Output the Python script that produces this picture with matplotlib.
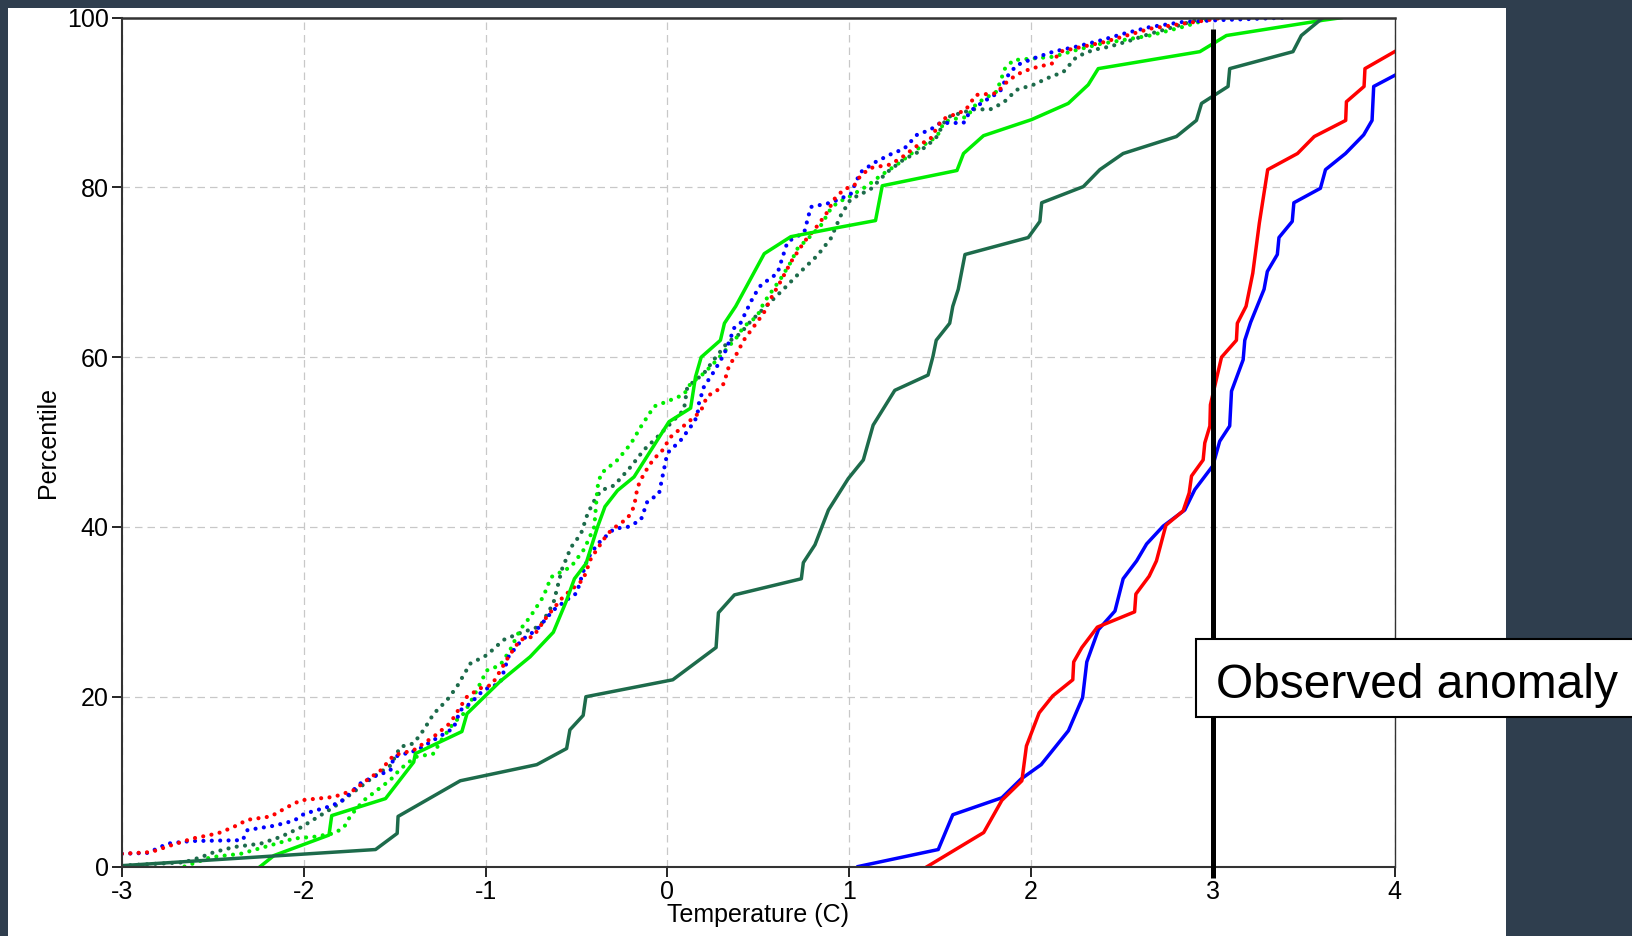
import matplotlib
matplotlib.use('Agg')
import matplotlib.pyplot as plt
from matplotlib.patches import Rectangle

plt.rcParams['font.family'] = ['Liberation Sans', 'DejaVu Sans']
plt.rcParams['axes.unicode_minus'] = False

# ── Data: empirical percentile curves (temperature anomaly, percentile) ──
# solid red
red_x = [1.43, 1.74, 1.84, 1.95, 1.975, 2.045, 2.12, 2.23, 2.235, 2.28, 2.365,
         2.57, 2.577, 2.65, 2.69, 2.742, 2.837, 2.87, 2.883, 2.947, 2.956, 2.984,
         2.987, 3.048, 3.13, 3.135, 3.183, 3.22, 3.256, 3.302, 3.466, 3.558,
         3.731, 3.735, 3.832, 3.837, 4.0]
red_y = [0, 4.0, 7.8, 10.1, 14.2, 18.1, 20.1, 22.0, 24.1, 25.8, 28.2,
         30.0, 32.1, 34.2, 36.0, 40.2, 41.9, 44.0, 46.0, 47.9, 49.9, 51.9,
         54.4, 60.0, 62.0, 64.0, 66.0, 69.9, 75.8, 82.1, 84.0, 86.0,
         87.9, 90.1, 91.9, 94.0, 96.0]

# solid blue
blue_x = [1.05, 1.49, 1.57, 1.84, 1.945, 2.056, 2.206, 2.284, 2.307, 2.371,
          2.462, 2.507, 2.581, 2.636, 2.727, 2.846, 2.901, 3.0, 3.038, 3.093,
          3.103, 3.167, 3.176, 3.208, 3.282, 3.3, 3.355, 3.364, 3.437, 3.446,
          3.592, 3.62, 3.73, 3.83, 3.876, 3.885, 4.0]
blue_y = [0, 2.0, 6.1, 8.1, 10.3, 12.0, 16.0, 19.9, 24.1, 27.9,
          30.1, 33.9, 36.0, 38.0, 40.1, 42.0, 44.4, 47.2, 50.1, 51.9,
          56.0, 59.7, 62.0, 64.1, 68.0, 70.1, 72.1, 74.1, 76.0, 78.2,
          79.9, 82.1, 84.0, 86.2, 87.9, 91.9, 93.2]

# solid dark green
dkgreen_x = [-3.0, -1.605, -1.486, -1.481, -1.139, -0.718, -0.554, -0.536,
             -0.463, -0.448, 0.03, 0.268, 0.281, 0.369, 0.737, 0.748, 0.812,
             0.886, 0.995, 1.078, 1.132, 1.251, 1.434, 1.461, 1.479, 1.553,
             1.57, 1.6, 1.637, 1.985, 2.049, 2.059, 2.288, 2.379, 2.507, 2.8,
             2.91, 2.938, 3.084, 3.093, 3.441, 3.487, 3.606]
dkgreen_y = [0.1, 2.0, 3.9, 5.9, 10.1, 12.0, 13.9, 16.1,
             17.8, 20.0, 22.0, 25.8, 29.9, 32.0, 33.9, 35.8, 37.9,
             42.0, 45.7, 47.9, 52.0, 56.1, 57.9, 60.1, 62.0, 64.0,
             66.0, 68.0, 72.1, 74.1, 76.0, 78.2, 80.1, 82.1, 84.0, 86.0,
             87.9, 89.9, 91.9, 94.0, 96.0, 97.9, 100.0]

# solid bright green
ltgreen_x = [-2.239, -2.163, -1.861, -1.846, -1.55, -1.395, -1.386, -1.13,
             -1.102, -0.92, -0.755, -0.627, -0.557, -0.511, -0.447, -0.384,
             -0.343, -0.274, -0.183, 0.009, 0.128, 0.155, 0.186, 0.292, 0.314,
             0.376, 0.533, 0.679, 0.944, 1.145, 1.182, 1.593, 1.629, 1.739,
             2.004, 2.205, 2.315, 2.37, 2.929, 3.075, 3.606, 3.707]
ltgreen_y = [0, 1.3, 3.7, 6.0, 8.0, 12.3, 13.3, 15.9,
             18.0, 21.8, 24.7, 27.6, 31.2, 33.9, 35.7, 40.0,
             42.4, 44.3, 45.9, 52.4, 54.0, 57.7, 60.0, 62.0, 64.0,
             66.0, 72.2, 74.2, 75.3, 76.1, 80.2, 82.0, 84.0, 86.1,
             88.0, 89.9, 92.1, 94.0, 96.0, 97.9, 99.7, 100.0]

# dotted red
red_dot_x = [-3.0, -2.839, -2.729, -2.611, -2.473, -2.391, -2.309, -2.181,
             -2.09, -2.016, -1.834, -1.724, -1.651, -1.578, -1.505, -1.395,
             -1.285, -1.194, -1.139, -1.102, -1.029, -0.965, -0.874, -0.81,
             -0.737, -0.664, -0.572, -0.463, -0.42, -0.329, -0.274, -0.219,
             -0.183, -0.164, -0.128, -0.073, -0.037, 0.018, 0.073, 0.128,
             0.183, 0.219, 0.274, 0.311, 0.338, 0.384, 0.42, 0.475, 0.53,
             0.566, 0.625, 0.679, 0.753, 0.826, 0.88, 0.917, 0.972, 1.027,
             1.063, 1.118, 1.227, 1.3, 1.373, 1.446, 1.51, 1.556, 1.64,
             1.697, 1.811, 1.855, 1.921, 2.0, 2.115, 2.159, 2.288, 2.397,
             2.526, 2.654, 2.837, 3.0, 3.05]
red_dot_y = [1.5, 1.7, 2.5, 3.3, 3.9, 4.6, 5.5, 5.9,
             7.0, 7.8, 8.2, 9.0, 10.2, 11.3, 13.1, 13.7,
             15.3, 16.9, 18.8, 20.0, 21.0, 21.4, 24.7, 26.7,
             27.1, 29.4, 31.8, 33.8, 36.3, 39.2, 40.2, 41.0,
             42.4, 44.7, 46.3, 48.1, 48.7, 50.6, 51.6, 52.6,
             53.6, 55.4, 56.1, 56.9, 58.9, 60.5, 62.0, 63.6, 65.2,
             66.8, 69.0, 71.2, 73.6, 75.5, 77.1, 78.6, 79.8, 80.2,
             81.4, 82.3, 82.7, 83.7, 84.9, 85.7, 88.0, 88.4, 89.1,
             90.9, 91.1, 92.2, 93.3, 94.0, 94.6, 96.0, 96.6, 97.1,
             97.9, 98.7, 99.3, 99.8, 100.0]

# dotted blue
blue_dot_x = [-3.0, -2.857, -2.748, -2.62, -2.336, -2.309, -2.163, -2.053,
              -1.998, -1.87, -1.797, -1.687, -1.614, -1.523, -1.505, -1.377,
              -1.285, -1.176, -1.139, -1.084, -1.011, -0.92, -0.874, -0.801,
              -0.718, -0.627, -0.554, -0.499, -0.466, -0.438, -0.384, -0.292,
              -0.219, -0.146, -0.11, -0.046, -0.027, 0.0, 0.073, 0.128, 0.164,
              0.174, 0.201, 0.256, 0.311, 0.347, 0.365, 0.402, 0.438, 0.475,
              0.515, 0.606, 0.625, 0.661, 0.753, 0.789, 0.899, 1.008, 1.045,
              1.063, 1.136, 1.191, 1.246, 1.3, 1.373, 1.446, 1.501, 1.629,
              1.666, 1.738, 1.83, 1.866, 1.921, 2.013, 2.123, 2.251, 2.379,
              2.507, 2.654, 2.837, 3.02, 3.405]
blue_dot_y = [1.5, 1.6, 2.7, 3.0, 3.1, 4.3, 4.8, 5.4,
              6.2, 7.0, 7.6, 9.8, 10.6, 11.3, 12.9, 13.7,
              14.9, 16.3, 18.4, 19.2, 20.8, 21.6, 24.7, 26.7,
              27.9, 30.2, 31.4, 32.2, 34.5, 36.3, 38.0, 39.8,
              40.0, 40.8, 43.0, 43.9, 45.9, 48.7, 50.2, 51.8, 53.0,
              54.6, 56.5, 58.3, 60.3, 62.2, 63.4, 64.0, 65.6, 67.2,
              68.5, 69.9, 71.2, 73.6, 74.7, 77.7, 78.2, 79.2, 81.0,
              81.8, 82.9, 83.5, 84.1, 84.5, 86.2, 86.8, 87.6, 87.6,
              89.0, 90.1, 91.3, 93.0, 94.4, 95.2, 96.0, 96.6, 97.3,
              98.1, 98.9, 99.5, 99.7, 100.0]

# dotted bright green
ltgreen_dot_x = [-2.656, -2.51, -2.346, -2.199, -2.053, -1.943, -1.834, -1.779,
                 -1.742, -1.669, -1.596, -1.523, -1.468, -1.386, -1.285, -1.249,
                 -1.176, -1.121, -1.066, -0.993, -0.92, -0.865, -0.81, -0.755,
                 -0.682, -0.639, -0.53, -0.457, -0.402, -0.384, -0.365, -0.274,
                 -0.201, -0.146, -0.073, 0.0, 0.091, 0.128, 0.201, 0.274, 0.384,
                 0.42, 0.493, 0.533, 0.625, 0.679, 0.716, 0.789, 0.844, 0.899,
                 0.935, 1.008, 1.1, 1.173, 1.264, 1.373, 1.483, 1.52, 1.556,
                 1.647, 1.701, 1.811, 1.857, 1.903, 2.123, 2.251, 2.379, 2.489,
                 2.654, 2.85, 3.0]
ltgreen_dot_y = [0, 1.1, 1.5, 2.4, 3.3, 3.5, 3.9, 4.6,
                 6.0, 7.8, 9.0, 10.2, 11.5, 12.9, 13.3, 14.7,
                 16.9, 18.0, 20.0, 23.1, 23.7, 25.5, 27.9, 29.4,
                 31.8, 34.1, 35.3, 37.4, 40.0, 44.7, 46.3, 47.9,
                 49.8, 51.8, 54.2, 54.8, 55.6, 56.9, 58.1, 59.7, 62.4,
                 63.6, 64.8, 66.5, 69.3, 71.2, 72.8, 74.3, 75.5, 77.5,
                 78.2, 79.0, 80.2, 81.4, 82.7, 84.5, 86.0, 87.6, 88.0,
                 88.3, 89.9, 91.3, 94.0, 95.0, 95.4, 96.2, 96.9, 97.3,
                 97.9, 99.0, 100.0]

# dotted dark green
dkgreen_dot_x = [-3.0, -2.656, -2.565, -2.492, -2.382, -2.236, -2.126, -2.016,
                 -1.925, -1.834, -1.761, -1.687, -1.614, -1.523, -1.468, -1.395,
                 -1.34, -1.285, -1.212, -1.157, -1.084, -0.993, -0.901, -0.81,
                 -0.7, -0.627, -0.58, -0.53, -0.475, -0.438, -0.402, -0.365,
                 -0.292, -0.201, -0.128, -0.055, 0.018, 0.091, 0.11, 0.201,
                 0.256, 0.329, 0.402, 0.457, 0.533, 0.643, 0.734, 0.826, 0.899,
                 0.954, 1.008, 1.118, 1.209, 1.3, 1.373, 1.428, 1.483, 1.52,
                 1.556, 1.684, 1.776, 1.849, 1.921, 2.013, 2.104, 2.178, 2.251,
                 2.342, 2.434, 2.544, 2.654, 2.8, 2.95]
dkgreen_dot_y = [0.1, 0.5, 1.1, 1.7, 2.3, 2.7, 3.5, 4.6,
                 5.8, 7.0, 8.2, 9.4, 10.6, 11.9, 14.1, 14.5,
                 16.1, 18.0, 19.6, 21.2, 23.9, 24.9, 26.7, 27.5,
                 28.3, 31.0, 35.0, 37.6, 39.2, 41.6, 43.1, 44.3,
                 44.9, 47.1, 49.1, 50.6, 52.2, 53.8, 56.5, 58.1,
                 59.7, 61.7, 62.8, 64.2, 65.8, 68.1, 70.1, 72.0, 74.0,
                 76.7, 78.6, 79.8, 81.8, 83.3, 84.1, 84.9, 86.0, 87.6,
                 88.4, 89.2, 89.2, 90.0, 91.5, 92.1, 93.0, 93.6, 95.4,
                 96.2, 96.6, 97.3, 98.1, 99.0, 100.0]

observed = 3.0
x_ticks = [-3, -2, -1, 0, 1, 2, 3, 4]
y_ticks = [0, 20, 40, 60, 80, 100]

# ── Figure ──────────────────────────────────────────────────────────
W, H = 1633, 936
BG = '#2f3e4e'
RED, BLUE = '#ff0000', '#0000ff'
LTGREEN, DKGREEN = '#00ee00', '#1d6b4b'

fig = plt.figure(figsize=(W / 100, H / 100), dpi=100, facecolor=BG)
# white plotting panel behind the axes
fig.patches.append(Rectangle((8 / W, 0), 1498 / W, 928 / H,
                             transform=fig.transFigure, facecolor='white',
                             edgecolor='none', zorder=-5))

ax = fig.add_axes([121.9 / W, 69.5 / H, 1272.7 / W, 848.8 / H])
ax.set_zorder(1)

dot = dict(linestyle=(0, (0.01, 2.0)), dash_capstyle='round', lw=3.0)
ax.plot(dkgreen_dot_x, dkgreen_dot_y, color=DKGREEN, **dot)
ax.plot(ltgreen_dot_x, ltgreen_dot_y, color=LTGREEN, **dot)
ax.plot(blue_dot_x, blue_dot_y, color=BLUE, **dot)
ax.plot(red_dot_x, red_dot_y, color=RED, **dot)

ax.plot(ltgreen_x, ltgreen_y, color=LTGREEN, lw=2.5)
ax.plot(dkgreen_x, dkgreen_y, color=DKGREEN, lw=2.5)
ax.plot(blue_x, blue_y, color=BLUE, lw=2.5)
ax.plot(red_x, red_y, color=RED, lw=2.5)

# observed anomaly marker
ax.plot([observed, observed], [-1.4, 98.7], color='black', lw=3.6,
        solid_capstyle='butt', clip_on=False, zorder=10)

ax.set_xlim(-3, 4)
ax.set_ylim(0, 100)
ax.set_xticks(x_ticks)
ax.set_xticklabels([str(v) for v in x_ticks])
ax.set_yticks(y_ticks)
ax.set_yticklabels([str(v) for v in y_ticks])
ax.tick_params(direction='out', length=7, width=1.2, labelsize=18,
               pad=2.5, colors='black')
ax.grid(color='#c8c8c8', lw=0.9, linestyle=(0, (6, 4)))
ax.set_axisbelow(True)
for side, lw in [('left', 1.5), ('bottom', 1.5), ('top', 1.8), ('right', 1.0)]:
    ax.spines[side].set_linewidth(lw)
    ax.spines[side].set_color('#333333')

ax.set_xlabel('Temperature (C)', fontsize=18)
ax.set_ylabel('Percentile', fontsize=18)
ax.xaxis.set_label_coords(0.5, -0.043)
ax.yaxis.set_label_coords(-0.0486, 0.5)

# label box, running off the right edge
fig.patches.append(Rectangle((1196 / W, 1 - 717 / H), 500 / W, 78 / H,
                             transform=fig.transFigure, facecolor='white',
                             edgecolor='black', lw=1.5, zorder=20))
fig.text(1216 / W, 1 - 697.5 / H, 'Observed anomaly', fontsize=34.5,
         va='baseline', ha='left', zorder=21)

plt.savefig('out.png', dpi=100, facecolor=BG)
